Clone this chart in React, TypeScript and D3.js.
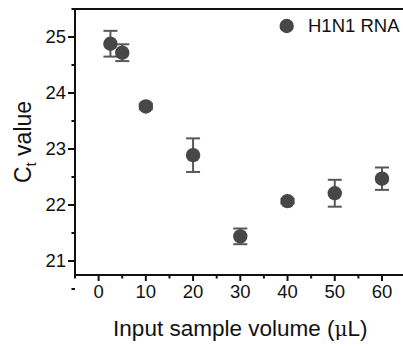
import React from "react";
import * as d3 from "d3";

const volumes = [2.5, 5, 10, 20, 30, 40, 50, 60];
const ctValues = [24.88, 24.72, 23.76, 22.89, 21.44, 22.07, 22.21, 22.47];
const ctErrors = [0.23, 0.15, 0.05, 0.3, 0.14, 0.04, 0.24, 0.2];
const xTicks = [0, 10, 20, 30, 40, 50, 60];
const xMinor = [-5, 5, 15, 25, 35, 45, 55, 65];
const yTicks = [21, 22, 23, 24, 25];
const yMinor = [20.5, 21.5, 22.5, 23.5, 24.5, 25.5];
const seriesName = "H1N1 RNA";

const W = 403;
const H = 347;
const font = "'Liberation Sans', Arial, sans-serif";

export default function App() {
  const left = 75, right = 405.6, top = 9, bottom = 275;
  const x = d3.scaleLinear().domain([-5, 65]).range([left, right]);
  const y = d3.scaleLinear().domain([20.75, 25.5]).range([bottom, top]);
  const dotColor = "#474747";
  const errColor = "#585858";
  const axisColor = "#111";

  return (
    <svg width={W} height={H} style={{ position: "absolute", left: 0, top: 0, background: "#fff" }}>
      {/* error bars */}
      {volumes.map((v, i) => {
        const cx = x(v);
        const y1 = y(ctValues[i] + ctErrors[i]);
        const y2 = y(ctValues[i] - ctErrors[i]);
        return (
          <g key={"e" + i} stroke={errColor} strokeWidth={2}>
            <line x1={cx} x2={cx} y1={y1} y2={y2} />
            <line x1={cx - 7} x2={cx + 7} y1={y1} y2={y1} />
            <line x1={cx - 7} x2={cx + 7} y1={y2} y2={y2} />
          </g>
        );
      })}
      {volumes.map((v, i) => (
        <circle key={"c" + i} cx={x(v)} cy={y(ctValues[i])} r={7.2} fill={dotColor} />
      ))}

      {/* axes */}
      <g stroke={axisColor} strokeWidth={2} fill="none">
        <line x1={left} x2={left} y1={top - 1} y2={bottom + 1} />
        <line x1={left - 1} x2={W} y1={bottom} y2={bottom} />
        <line x1={left - 1} x2={W} y1={top} y2={top} />
        {xTicks.map((t) => (
          <line key={"xt" + t} x1={x(t)} x2={x(t)} y1={bottom} y2={bottom + 6} />
        ))}
        {xMinor.map((t) => (
          <line key={"xm" + t} x1={x(t)} x2={x(t)} y1={bottom} y2={bottom + 3.5} />
        ))}
        {yTicks.map((t) => (
          <line key={"yt" + t} x1={left - 7} x2={left} y1={y(t)} y2={y(t)} />
        ))}
        {yMinor.map((t) => (
          <line key={"ym" + t} x1={left - 3.5} x2={left} y1={y(t)} y2={y(t)} />
        ))}
      </g>

      <g fontFamily={font} fontSize={18.5} fill="#111">
        {xTicks.map((t) => (
          <text key={"xl" + t} x={x(t)} y={298} textAnchor="middle">{t}</text>
        ))}
        {yTicks.map((t) => (
          <text key={"yl" + t} x={66} y={y(t)} dy="0.35em" textAnchor="end">{t}</text>
        ))}
      </g>

      <text x={(left + right) / 2} y={336} textAnchor="middle" fontFamily={font} fontSize={22.5} fill="#111">
        Input sample volume (<tspan fontFamily="'DejaVu Serif', serif" fontSize={20}>μ</tspan>L)
      </text>

      <text
        transform={`translate(31, ${(top + bottom) / 2}) rotate(-90)`}
        textAnchor="middle"
        fontFamily={font}
        fontSize={23}
        fill="#111"
      >
        C<tspan fontSize={15} dy={5}>t</tspan><tspan dy={-5}> value</tspan>
      </text>

      {/* legend */}
      <circle cx={286.7} cy={26} r={7.2} fill={dotColor} />
      <text x={308} y={31.5} fontFamily={font} fontSize={18.5} fill="#111">{seriesName}</text>
    </svg>
  );
}
